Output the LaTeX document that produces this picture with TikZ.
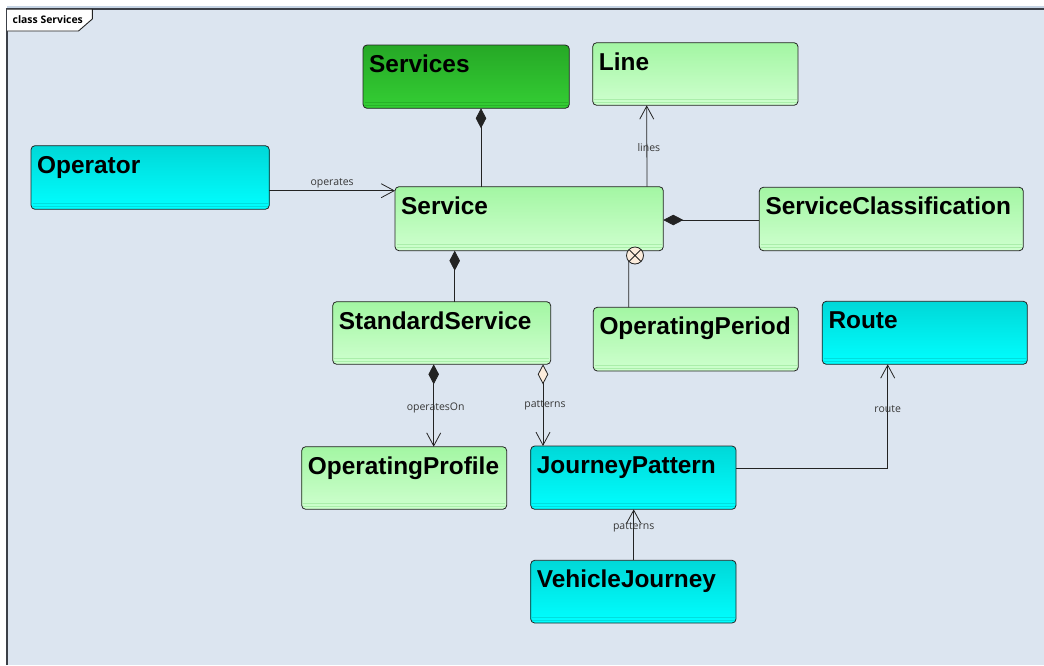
\documentclass[tikz,border=0pt]{standalone}
\usepackage{fontspec}
\setmainfont{Liberation Sans}
\newfontfamily\lblfont{Open Sans}
\usetikzlibrary{arrows.meta}
\definecolor{bgc}{RGB}{220,229,240}
\definecolor{framec}{RGB}{60,64,72}
\definecolor{bandc}{RGB}{198,212,228}
\definecolor{gtop}{RGB}{163,246,163}
\definecolor{gbot}{RGB}{206,255,206}
\definecolor{gln}{RGB}{170,238,170}
\definecolor{ctop}{RGB}{0,216,216}
\definecolor{cbot}{RGB}{0,255,255}
\definecolor{cln}{RGB}{0,222,222}
\definecolor{dtop}{RGB}{38,168,38}
\definecolor{dbot}{RGB}{52,206,52}
\definecolor{dln}{RGB}{40,178,40}
\definecolor{edgec}{RGB}{35,35,35}
\definecolor{cream}{RGB}{252,236,220}
\definecolor{lblc}{RGB}{55,55,55}
\tikzset{
  box/.style={draw=edgec, line width=0.8pt, rounded corners=4pt, outer sep=0pt, inner sep=0pt},
  gbox/.style={top color=gtop, bottom color=gbot},
  cbox/.style={top color=ctop, bottom color=cbot},
  dbox/.style={top color=dtop, bottom color=dbot},
  gline/.style={draw=gln, line width=0.7pt},
  cline/.style={draw=cln, line width=0.7pt},
  dline/.style={draw=dln, line width=0.7pt},
  nametext/.style={inner sep=0pt, font=\bfseries\fontsize{24.4}{28}\selectfont, text=black},
  conn/.style={draw=edgec, line width=0.8pt},
  openend/.style={-{Straight Barb[length=13pt,width=14pt]}},
  lbl/.style={inner sep=0pt, font=\lblfont\fontsize{10.5}{12}\selectfont, text=lblc},
  nestc/.style={circle, draw=edgec, line width=0.8pt, fill=cream, minimum size=17pt, inner sep=0pt, outer sep=0pt}
}
\newcommand\umlbox[7]{%
  \node[box,#6box,minimum width=#4pt,minimum height=#5pt,anchor=north west] (#1) at (#2,#3) {};
  \draw[#6line] ([xshift=1.5pt,yshift=6pt]#1.south west) -- ([xshift=-1.5pt,yshift=6pt]#1.south east);
  \draw[#6line] ([xshift=1.5pt,yshift=3pt]#1.south west) -- ([xshift=-1.5pt,yshift=3pt]#1.south east);
  \node[nametext,anchor=base west] (#1-t) at ([xshift=6pt,yshift=-27.5pt]#1.north west) {#7};
}
\begin{document}
\begin{tikzpicture}[x=1pt,y=-1pt]
\useasboundingbox (0,0) rectangle (1044,665);
\fill[white] (0,0) rectangle (1044,665);
\fill[bandc] (7,5.7) rectangle (1044,8.5);
\fill[bgc] (7,9) rectangle (1044,665);
\draw[framec, line width=2pt] (7,665) -- (7,9.2) -- (1044,9.2);
% title tab
\draw[draw=edgec, line width=0.9pt, fill=white] (7,9.2) -- (92.3,9.2) -- (92.3,19) -- (78.5,31) -- (7,31);
\node[inner sep=0pt, anchor=base west, font=\lblfont\bfseries\fontsize{10.4}{12}\selectfont] (title) at (12.5,23.6) {class Services};

% classes
\umlbox{services}{363}{45}{206.3}{63.3}{d}{Services}
\umlbox{line}{592.7}{42.7}{205.3}{62.6}{g}{Line}
\umlbox{operator}{31}{145.7}{238.3}{63.6}{c}{Operator}
\umlbox{service}{395}{186.7}{268.3}{64}{g}{Service}
\umlbox{sc}{759.3}{187.3}{264}{63.4}{g}{ServiceClassification}
\umlbox{ss}{332.7}{301.7}{218}{62.6}{g}{StandardService}
\umlbox{operiod}{593.3}{307.3}{205}{63.7}{g}{OperatingPeriod}
\umlbox{route}{822.3}{301.3}{205}{63}{c}{Route}
\umlbox{oprof}{301.7}{446.7}{205}{62.6}{g}{OperatingProfile}
\umlbox{jp}{530.7}{446}{205.3}{63.3}{c}{JourneyPattern}
\umlbox{vj}{530.7}{560.3}{205.3}{62.7}{c}{VehicleJourney}

% connectors
\draw[conn,{Diamond[length=20pt,width=10.5pt]}-] ([xshift=118pt]services.south west) -- ([xshift=86pt]service.north west);
\draw[conn,openend] ([xshift=252pt]service.north west) -- node[lbl,pos=0.475,xshift=2pt] (l-lines) {lines} ([xshift=54pt]line.south west);
\draw[conn,openend] ([yshift=-45pt]operator.north east) -- node[lbl,pos=0.5,yshift=7.8pt] (l-operates) {operates} ([yshift=-4pt]service.north west);
\draw[conn,{Diamond[length=20pt,width=10.5pt]}-] ([yshift=-33.3pt]service.north east) -- ([yshift=-32.7pt]sc.north west);
\draw[conn,{Diamond[length=20pt,width=10.5pt]}-] ([xshift=59.7pt]service.south west) -- ([xshift=122pt]ss.north west);
\node[nestc] (nest) at (635,255.5) {};
\draw[conn] (nest.45) -- (nest.225) (nest.135) -- (nest.315);
\draw[conn] (nest.222) -- ([xshift=35.4pt]operiod.north west);
\draw[conn,{Diamond[length=20pt,width=10.5pt]}-{Straight Barb[length=13pt,width=14pt]}] ([xshift=101pt]ss.south west) -- node[lbl,pos=0.5,xshift=2pt,yshift=-2.5pt] (l-opon) {operatesOn} ([xshift=132pt]oprof.north west);
\draw[conn,{Diamond[length=20pt,width=10.5pt,fill=cream]}-{Straight Barb[length=13pt,width=14pt]}] ([xshift=210.3pt]ss.south west) -- node[lbl,pos=0.5,xshift=2pt] (l-pat1) {patterns} ([xshift=12.3pt]jp.north west);
\draw[conn,openend] ([yshift=-22.3pt]jp.north east) -| node[lbl,pos=0.785] (l-route) {route} ([xshift=65.4pt]route.south west);
\draw[conn,openend] ([xshift=103pt]vj.north west) -- node[lbl,pos=0.64] (l-pat2) {patterns} ([xshift=103pt]jp.south west);
\end{tikzpicture}
\end{document}
